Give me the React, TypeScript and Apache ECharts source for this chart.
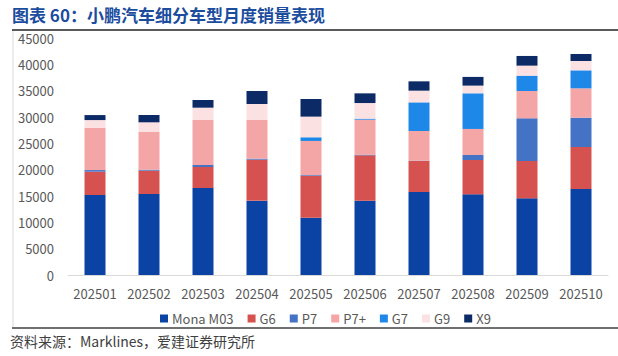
import React, { useEffect, useRef } from "react";
import * as echarts from "echarts";

const categories = ["202501", "202502", "202503", "202504", "202505", "202506", "202507", "202508", "202509", "202510"];
const monaM03 = [15190, 15380, 16520, 14110, 10890, 14110, 15760, 15320, 14560, 16330];
const g6 = [4430, 4430, 3990, 7790, 7970, 8610, 5890, 6520, 7090, 7970];
const p7 = [300, 190, 380, 190, 130, 130, 60, 950, 8100, 5570];
const p7plus = [8040, 7215, 8540, 7340, 6460, 6640, 5630, 4940, 5190, 5570];
const g7 = [0, 0, 0, 0, 700, 190, 5440, 6770, 2910, 3420];
const g9 = [1455, 1775, 2340, 3040, 3920, 2970, 2220, 1460, 1900, 1770];
const x9 = [950, 1390, 1460, 2470, 3350, 1840, 1770, 1650, 1840, 1330];
const yTicks = { min: 0, max: 45000, interval: 5000 };

const seriesDefs = [
  { name: "Mona M03", data: monaM03, color: "#0A43A3" },
  { name: "G6", data: g6, color: "#D65250" },
  { name: "P7", data: p7, color: "#4472C4" },
  { name: "P7+", data: p7plus, color: "#F4A5A5" },
  { name: "G7", data: g7, color: "#1E88E8" },
  { name: "G9", data: g9, color: "#FCE1E3" },
  { name: "X9", data: x9, color: "#0B2A66" },
];

const FONT = "'Noto Sans CJK SC', 'Noto Sans', sans-serif";

export default function App() {
  const ref = useRef<HTMLDivElement>(null);
  useEffect(() => {
    if (!ref.current) return;
    const chart = echarts.init(ref.current, null, { renderer: "svg" });
    chart.setOption({
      animation: false,
      backgroundColor: "#ffffff",
      textStyle: { fontFamily: FONT },
      grid: { left: 68, right: 10, top: 38, bottom: 81 },
      legend: {
        left: 155,
        top: 307,
        itemWidth: 8,
        itemHeight: 8,
        itemGap: 14,
        icon: "rect",
        textStyle: { color: "#595959", fontSize: 13, fontFamily: FONT, padding: [0, 0, 0, -1] },
        data: seriesDefs.map((s) => s.name),
      },
      xAxis: {
        type: "category",
        data: categories,
        axisLine: { show: true, lineStyle: { color: "#D9D9D9", width: 1 } },
        axisTick: { show: false },
        axisLabel: { color: "#595959", fontSize: 13, margin: 12, interval: 0, hideOverlap: false, fontFamily: FONT },
      },
      yAxis: {
        type: "value",
        min: yTicks.min,
        max: yTicks.max,
        interval: yTicks.interval,
        splitLine: { show: false },
        axisLine: { show: false },
        axisTick: { show: false },
        axisLabel: {
          color: "#595959",
          fontSize: 13,
          margin: 14,
          fontFamily: FONT,
          formatter: (v: number) => String(v),
        },
      },
      series: seriesDefs.map((s) => ({
        name: s.name,
        type: "bar",
        stack: "total",
        barWidth: 21,
        data: s.data,
        itemStyle: { color: s.color },
      })),
      graphic: [
        {
          type: "text",
          left: 12,
          top: 6,
          style: {
            text: "图表 60：小鹏汽车细分车型月度销量表现",
            fill: "#1B4C9E",
            font: `bold 17px ${FONT}`,
          },
        },
        {
          type: "line",
          shape: { x1: 12, y1: 30, x2: 618, y2: 30 },
          style: { stroke: "#595959", lineWidth: 2 },
        },
        {
          type: "line",
          shape: { x1: 13, y1: 31, x2: 13, y2: 327 },
          style: { stroke: "#D9D9D9", lineWidth: 1 },
        },
        {
          type: "line",
          shape: { x1: 12, y1: 328, x2: 618, y2: 328 },
          style: { stroke: "#404040", lineWidth: 1.5 },
        },
        {
          type: "text",
          left: 10,
          top: 334,
          style: {
            text: "资料来源：Marklines，爱建证券研究所",
            fill: "#404040",
            font: `14px ${FONT}`,
          },
        },
      ],
    });
    return () => chart.dispose();
  }, []);
  return <div ref={ref} style={{ width: 618, height: 356, position: "absolute", left: 0, top: 0 }} />;
}
